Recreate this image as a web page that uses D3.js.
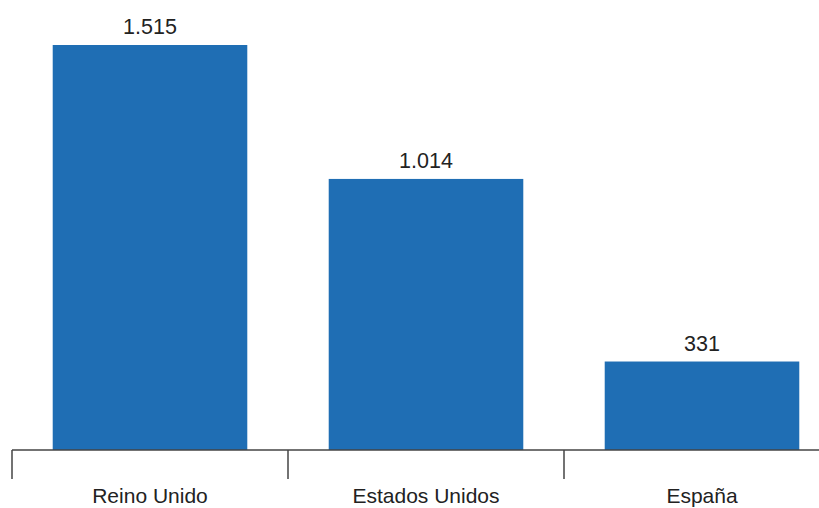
<!DOCTYPE html>
<html>
<head>
<meta charset="utf-8">
<script src="https://cdn.jsdelivr.net/npm/d3@7"></script>
<style>
  html, body { margin: 0; padding: 0; background: #fff; }
  svg { display: block; }
</style>
</head>
<body>
<svg id="chart" width="819" height="508"></svg>
<script>
const categories = ["Reino Unido", "Estados Unidos", "España"];
const values = [1515, 1014, 331];

const svg = d3.select("#chart");
const baseline = 450;

const x = d3.scaleBand()
  .domain(categories)
  .range([12, 840])
  .paddingInner(0.295)
  .paddingOuter(0.1475);

const y = d3.scaleLinear()
  .domain([0, d3.max(values)])
  .range([baseline, 45]);

const locale = d3.formatLocale({ decimal: ",", thousands: ".", grouping: [3], currency: ["", "€"] });
const fmt = locale.format(",d");

const data = categories.map((c, i) => ({ c, v: values[i] }));

svg.selectAll("rect.bar")
  .data(data)
  .join("rect")
  .attr("class", "bar")
  .attr("x", d => x(d.c))
  .attr("y", d => y(d.v))
  .attr("width", x.bandwidth())
  .attr("height", d => y(0) - y(d.v))
  .attr("fill", "#1f6eb4");

svg.selectAll("text.val")
  .data(data)
  .join("text")
  .attr("class", "val")
  .attr("x", d => x(d.c) + x.bandwidth() / 2)
  .attr("y", d => y(d.v) - 11)
  .attr("text-anchor", "middle")
  .attr("font-family", "Liberation Sans, Arial, sans-serif")
  .attr("font-size", 21.5)
  .attr("fill", "#222")
  .text(d => fmt(d.v));

// axis
const step = x.step();
const start = x.range()[0];
const axis = svg.append("g");
axis.append("line")
  .attr("x1", start).attr("x2", 819)
  .attr("y1", baseline).attr("y2", baseline)
  .attr("stroke", "#444").attr("stroke-width", 1.5);

const tickPos = categories.map((c, i) => start + i * step);
axis.selectAll("line.tick")
  .data(tickPos)
  .join("line")
  .attr("class", "tick")
  .attr("x1", d => d).attr("x2", d => d)
  .attr("y1", baseline).attr("y2", baseline + 29)
  .attr("stroke", "#444").attr("stroke-width", 1.5);

axis.selectAll("text.cat")
  .data(categories)
  .join("text")
  .attr("class", "cat")
  .attr("x", d => x(d) + x.bandwidth() / 2)
  .attr("y", 503)
  .attr("text-anchor", "middle")
  .attr("font-family", "Liberation Sans, Arial, sans-serif")
  .attr("font-size", 21)
  .attr("fill", "#222")
  .text(d => d);
</script>
</body>
</html>
